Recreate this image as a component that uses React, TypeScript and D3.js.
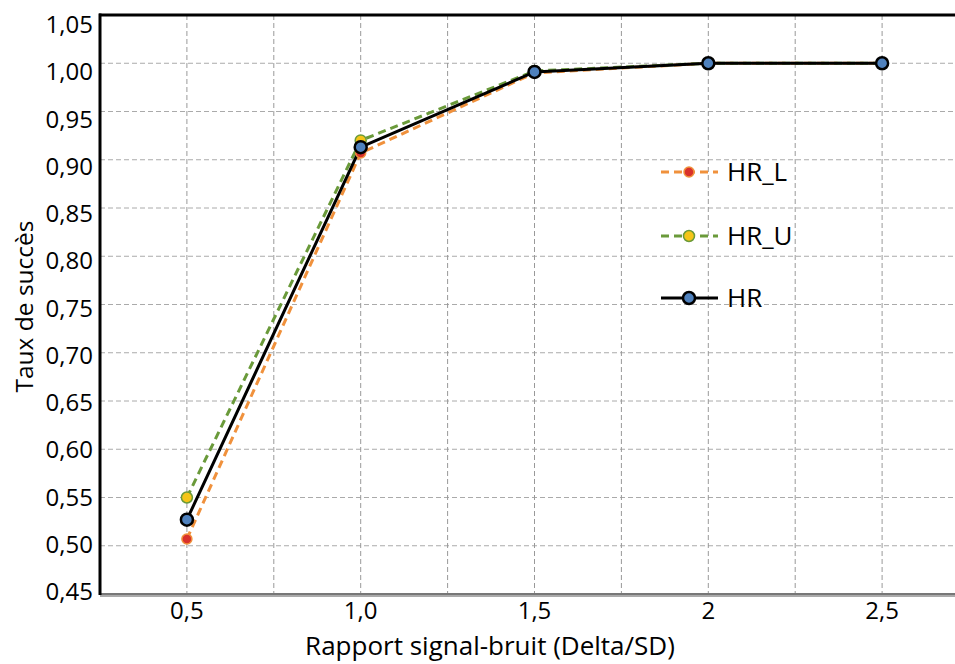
import React from 'react';
import * as d3 from 'd3';

// values
const snr = [0.5, 1.0, 1.5, 2, 2.5];
const hrL = [0.507, 0.907, 0.99, 1.0, 1.0];
const hrU = [0.55, 0.92, 0.992, 1.0, 1.0];
const hr = [0.527, 0.913, 0.991, 1.0, 1.0];

const xTicks = [0.5, 1.0, 1.5, 2, 2.5];
const xTickLabels = ['0,5', '1,0', '1,5', '2', '2,5'];
const xGrid = [0.5, 0.75, 1.0, 1.25, 1.5, 1.75, 2, 2.25, 2.5];
const yTicks = [0.45, 0.5, 0.55, 0.6, 0.65, 0.7, 0.75, 0.8, 0.85, 0.9, 0.95, 1.0, 1.05];

const font = '"Open Sans", "Noto Sans", sans-serif';

const App = () => {
  const width = 955;
  const height = 664;
  const margin = { top: 15, left: 100, bottom: 70 };

  const x = d3.scaleLinear().domain([0.25, 2.75]).range([margin.left, margin.left + 10 * 86.9]);
  const y = d3.scaleLinear().domain([0.45, 1.05]).range([height - margin.bottom, margin.top]);
  // the tick labels sit on a slightly tighter spacing than the grid
  const yLabel = d3.scaleLinear().domain([0.45, 1.05]).range([591.5, 24.5]);

  const line = d3.line<number>()
    .x((d, i) => x(snr[i]))
    .y(d => y(d));

  const fmt = (v: number) => v.toFixed(2).replace('.', ',');

  const legend = [
    { label: 'HR_L', stroke: '#f0913c', dash: '8,5', fill: '#d9312b', mstroke: '#f0913c', r: 5, mw: 1.5, lw: 3, y: 172 },
    { label: 'HR_U', stroke: '#6a9a3a', dash: '8,5', fill: '#f5c518', mstroke: '#6a9a3a', r: 5.5, mw: 1.5, lw: 3, y: 236 },
    { label: 'HR', stroke: '#000', dash: null, fill: '#4f81bd', mstroke: '#000', r: 6, mw: 2.5, lw: 3, y: 298 },
  ];

  const series = [
    { values: hrL, ...legend[0] },
    { values: hrU, ...legend[1] },
    { values: hr, ...legend[2] },
  ];

  return (
    <svg width={width} height={height} style={{ position: 'absolute', left: 0, top: 0 }} fontFamily={font}>
      <rect width={width} height={height} fill="#fff" />

      {/* grid */}
      {yTicks.slice(1, -1).map(t => (
        <line key={'gy' + t} x1={margin.left} x2={width} y1={y(t)} y2={y(t)}
          stroke="#aaa" strokeWidth={1} strokeDasharray="5,3" />
      ))}
      {xGrid.map(t => (
        <line key={'gx' + t} x1={x(t)} x2={x(t)} y1={margin.top} y2={y(0.45)}
          stroke="#999" strokeWidth={1} strokeDasharray="5,3" />
      ))}

      {/* axes */}
      <line x1={margin.left} x2={width} y1={y(0.45) + 1} y2={y(0.45) + 1} stroke="#aaa" strokeWidth={4} />
      <line x1={margin.left} x2={width} y1={y(0.45)} y2={y(0.45)} stroke="#666" strokeWidth={1.5} />
      <line x1={margin.left - 1} x2={width} y1={margin.top} y2={margin.top} stroke="#000" strokeWidth={3} />
      <line x1={margin.left} x2={margin.left} y1={margin.top - 1.5} y2={y(0.45) + 1} stroke="#000" strokeWidth={3} />

      {yTicks.map(t => (
        <text key={'ty' + t} x={margin.left - 7} y={yLabel(t)} dy="0.36em" textAnchor="end"
          fontSize={24} fill="#000">{fmt(t)}</text>
      ))}
      {xTicks.map((t, i) => (
        <text key={'tx' + t} x={x(t)} y={619} textAnchor="middle" fontSize={24} fill="#000">{xTickLabels[i]}</text>
      ))}

      <text x={490} y={655} textAnchor="middle" fontSize={26} fill="#000">Rapport signal-bruit (Delta/SD)</text>
      <text transform={`translate(33,${(margin.top + y(0.45)) / 2 + 2}) rotate(-90)`} textAnchor="middle"
        fontSize={24.5} fill="#000">Taux de succès</text>

      {/* lines */}
      {series.map(s => (
        <path key={'l' + s.label} d={line(s.values) || ''} fill="none" stroke={s.stroke}
          strokeWidth={s.lw} strokeDasharray={s.dash || undefined} />
      ))}
      {series.map(s => (
        <g key={'m' + s.label}>
          {s.values.map((v, i) => (
            <circle key={i} cx={x(snr[i])} cy={y(v)} r={s.r} fill={s.fill} stroke={s.mstroke} strokeWidth={s.mw} />
          ))}
        </g>
      ))}

      {/* legend */}
      {legend.map(l => (
        <g key={'lg' + l.label}>
          <line x1={661} x2={718} y1={l.y} y2={l.y} stroke={l.stroke} strokeWidth={l.lw}
            strokeDasharray={l.dash || undefined} />
          <circle cx={689} cy={l.y} r={l.r} fill={l.fill} stroke={l.mstroke} strokeWidth={l.mw} />
          <text x={727} y={l.y} dy="0.36em" fontSize={26} fill="#000">{l.label}</text>
        </g>
      ))}
    </svg>
  );
};

export default App;
